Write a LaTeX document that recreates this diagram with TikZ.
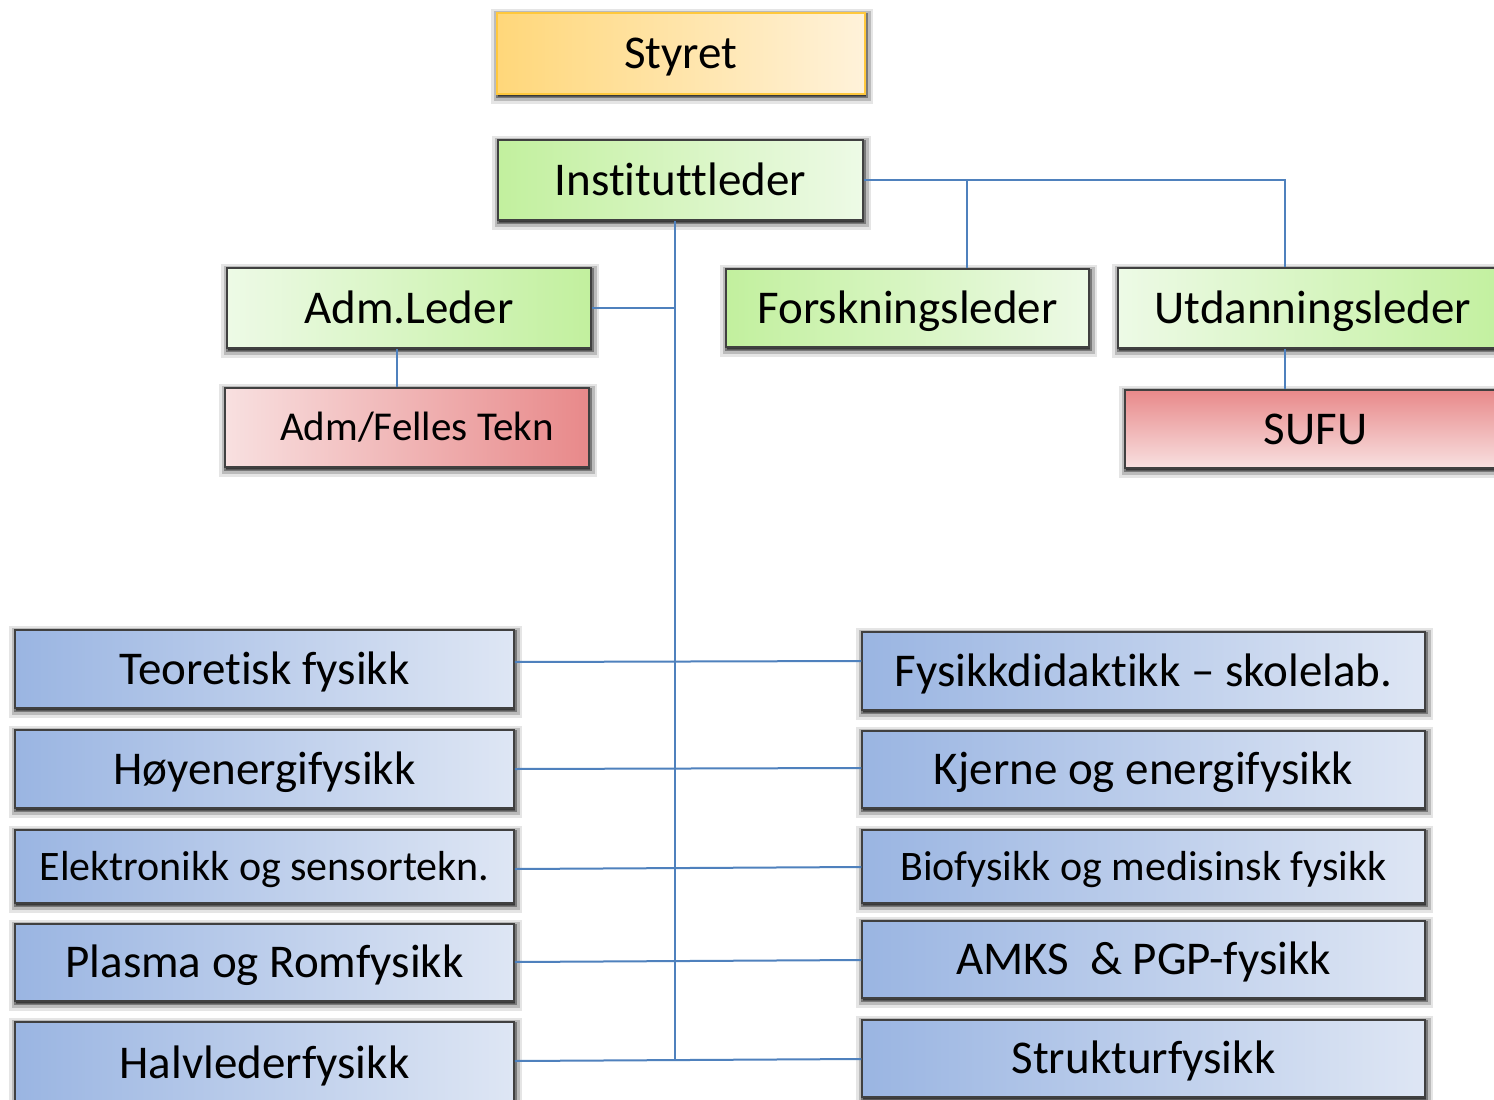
\documentclass[tikz,border=0pt]{standalone}
\usepackage{fontspec}
\setmainfont{Carlito}[Ligatures={NoCommon,NoContextual}]
\usetikzlibrary{shadows}
\definecolor{gsat}{HTML}{C2F09E}
\definecolor{glight}{HTML}{EDFAE6}
\definecolor{rsat}{HTML}{E8898A}
\definecolor{rlight}{HTML}{F8E0E0}
\definecolor{bsat}{HTML}{9AB5E2}
\definecolor{blight}{HTML}{DEE6F4}
\definecolor{ysat}{HTML}{FFD77A}
\definecolor{ylight}{HTML}{FFF2DA}
\definecolor{yborder}{HTML}{FFC83D}
\definecolor{conncol}{HTML}{4F81BD}
\tikzset{
  orgbox/.style={draw=black!75, line width=1.5pt, inner sep=0pt, text=black,
    font=\fontsize{47}{56}\selectfont, text height=30pt, text depth=0pt,
    general shadow={draw=black, line width=14pt, opacity=0.10, fill=black, shadow yshift=-3pt, shadow xshift=1pt},
    general shadow={draw=black, line width=9pt, opacity=0.18, fill=black, shadow yshift=-2.5pt, shadow xshift=1pt},
    general shadow={draw=black, line width=4pt, opacity=0.35, fill=black, shadow yshift=-2pt, shadow xshift=1pt}},
  smallfont/.style={font=\fontsize{42}{50}\selectfont, text height=27pt},
  conn/.style={draw=conncol, line width=2pt}
}
\begin{document}
\begin{tikzpicture}[x=1pt, y=-1pt]
\useasboundingbox (0,0) rectangle (1494,1100);
\clip (0,0) rectangle (1494,1100);
\fill[white] (0,0) rectangle (1494,1100);
% top
\node[orgbox, draw=yborder, left color=ysat, right color=ylight, minimum width=368pt, minimum height=81pt] (styret) at (681,53.5) {Styret};
\node[orgbox, left color=gsat, right color=glight, minimum width=365pt, minimum height=80pt] (inst) at (680.5,180) {Institut\kern0pt tleder};
\node[orgbox, left color=glight, right color=gsat, minimum width=364pt, minimum height=80pt] (adm) at (409,308) {Adm.Leder};
\node[orgbox, font=\fontsize{41}{49}\selectfont, text height=26pt, left color=rlight, right color=rsat, minimum width=364pt, minimum height=79pt] (tekn) at (407,427.5) {\hspace*{20pt}Adm/Felles Tekn};
\node[orgbox, left color=gsat, right color=glight, minimum width=363pt, minimum height=78pt] (forsk) at (907.5,308) {Forskningsleder};
\node[orgbox, left color=glight, right color=gsat, minimum width=390pt, minimum height=80pt] (utd) at (1313,308) {Utdanningsleder};
\node[orgbox, top color=rsat, bottom color=rlight, minimum width=381pt, minimum height=78pt] (sufu) at (1315.5,429) {SUFU};
% left column
\node[orgbox, left color=bsat, right color=blight, minimum width=499pt, minimum height=78pt] (teo) at (264.5,669) {Teoretisk fysikk};
\node[orgbox, left color=bsat, right color=blight, minimum width=499pt, minimum height=78pt] (hoy) at (264.5,769) {Høyenergifysikk};
\node[orgbox, smallfont, left color=bsat, right color=blight, minimum width=499pt, minimum height=73pt] (elek) at (264.5,866.5) {Elektronikk og sensortekn.};
\node[orgbox, left color=bsat, right color=blight, minimum width=499pt, minimum height=77pt] (plasma) at (264.5,962.5) {Plasma og Romfysikk};
\node[orgbox, left color=bsat, right color=blight, minimum width=499pt, minimum height=82pt] (halv) at (264.5,1063) {Halvlederfysikk};
% right column
\node[orgbox, left color=bsat, right color=blight, minimum width=563pt, minimum height=78pt] (fys) at (1143.5,671) {Fysikkdidaktikk – skolelab.};
\node[orgbox, left color=bsat, right color=blight, minimum width=563pt, minimum height=77pt] (kj) at (1143.5,769.5) {Kjerne og energifysikk};
\node[orgbox, smallfont, left color=bsat, right color=blight, minimum width=563pt, minimum height=73pt] (bio) at (1143.5,866.5) {Biofysikk og medisinsk fysikk};
\node[orgbox, left color=bsat, right color=blight, minimum width=563pt, minimum height=77pt] (amks) at (1143.5,959.5) {AMKS\ \ \& PGP-fysikk};
\node[orgbox, left color=bsat, right color=blight, minimum width=563pt, minimum height=77pt] (str) at (1143.5,1058.5) {Strukturfysikk};
% connectors
\coordinate (tend) at (675,1060);
\draw[conn] ([xshift=-5.5pt]inst.south) -- (tend);
\draw[conn] (adm.east) -- (adm.east -| tend);
\draw[conn] ([xshift=-12pt]adm.south) -- ([xshift=-12pt]adm.south |- tekn.north);
\draw[conn] (inst.east) -| ([xshift=-28pt]utd.north);
\draw[conn] ([xshift=59.5pt]forsk.north) -- ([xshift=59.5pt]forsk.north |- inst.east);
\draw[conn] ([xshift=-28pt]utd.south) -- ([xshift=-28pt]utd.south |- sufu.north);
\draw[conn] ([yshift=7pt]teo.east) -- ([yshift=10pt]fys.west);
\draw[conn] (hoy.east) -- ([yshift=1.5pt]kj.west);
\draw[conn] ([yshift=-2.5pt]elek.east) -- ([yshift=-0.5pt]bio.west);
\draw[conn] ([yshift=0.5pt]plasma.east) -- ([yshift=-0.5pt]amks.west);
\draw[conn] ([yshift=2pt]halv.east) -- ([yshift=-0.5pt]str.west);
\end{tikzpicture}
\end{document}
